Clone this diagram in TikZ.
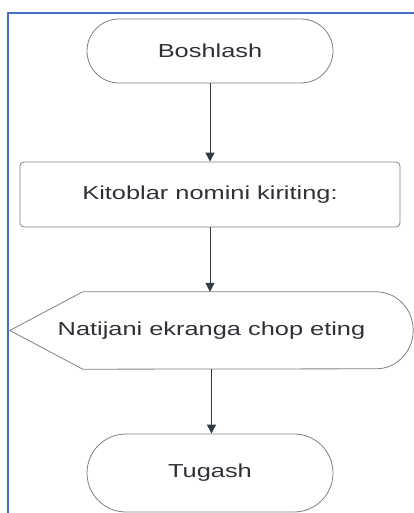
\documentclass[tikz,border=0pt]{standalone}
\usepackage{fontspec}
\usepackage{tikz}
\usetikzlibrary{arrows.meta,shapes}
\usepackage{xcolor}
\newfontfamily\flowfont[FakeStretch=1.35]{Liberation Sans}
\definecolor{fcframe}{RGB}{68,114,196}
\definecolor{fcline}{RGB}{128,128,128}
\definecolor{fcarrow}{RGB}{52,58,68}
\definecolor{fctext}{RGB}{45,49,55}
\tikzstyle{terminal} = [draw=fcline, line width=0.8pt, rounded corners=32pt, minimum width=246pt, text=fctext, font=\flowfont\fontsize{18.8}{22}\selectfont]
\tikzstyle{process} = [draw=fcline, line width=0.8pt, rounded corners=4pt, minimum width=380pt, minimum height=65pt, text=fctext, font=\flowfont\fontsize{18.8}{22}\selectfont]
\tikzstyle{display} = [minimum width=403pt, minimum height=77pt, text=fctext, font=\flowfont\fontsize{18.8}{22}\selectfont]
\tikzstyle{arrow} = [line width=1pt,-{Triangle[length=9pt,width=9pt]},color=fcarrow]

\begin{document}
\begin{tikzpicture}[x=1pt,y=1pt]
\useasboundingbox (0,0) rectangle (414,513);
% Frame
\draw[fcframe, line width=2pt] (8,0) -- (8,499.5) -- (414,499.5);

% Nodes
\node[terminal, minimum height=64pt] (start) at (210,462) {Boshlash};
\node[process] (read) at (210,318.5) {Kitoblar nomini kiriting:};
\node[display] (out) at (211.5,182.5) {Natijani ekranga chop eting};
\node[terminal, minimum height=78pt, rounded corners=39pt] (stop) at (210,40) {Tugash};

% Display outline
\draw[fcline, line width=0.8pt] (out.west) -- ([xshift=73pt]out.north west) -- ([xshift=-37pt]out.north east)
  arc[start angle=90, end angle=-90, x radius=37pt, y radius=38.5pt] -- ([xshift=73pt]out.south west) -- cycle;

% Arrows
\draw[arrow] (start) -- (read);
\draw[arrow] (read) -- (out.north -| read.south);
\draw[arrow] (out.south) -- (out.south |- stop.north);
\end{tikzpicture}
\end{document}
